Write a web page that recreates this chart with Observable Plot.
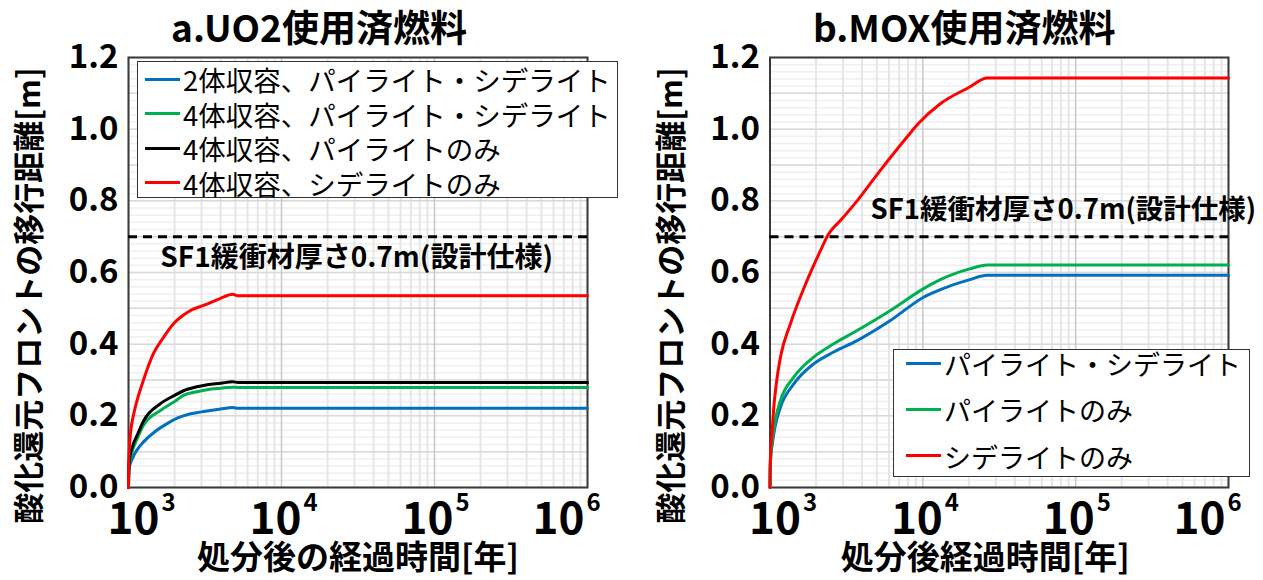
<!DOCTYPE html>
<html><head><meta charset="utf-8">
<script src="https://cdn.jsdelivr.net/npm/d3@7"></script>
<script src="https://cdn.jsdelivr.net/npm/@observablehq/plot@0.6"></script>
<style>
body{margin:0;background:#fff;font-family:"Noto Sans CJK JP",sans-serif;}
#wrap{position:relative;width:1263px;height:580px;overflow:hidden;background:#fff;}
.panel{position:absolute;top:0;}
.legend{position:absolute;background:#fff;border:1.5px solid #333;box-sizing:border-box;}
.row{position:absolute;left:0;display:flex;align-items:center;white-space:nowrap;color:#000;font-weight:400;}
.sw{display:inline-block;width:35px;height:3px;margin-right:3px;}
</style></head><body>
<div id="wrap"></div>
<script>
// ---- data ----
const panelTitles = ["a.UO2使用済燃料", "b.MOX使用済燃料"];
const yTitle = "酸化還元フロントの移行距離[m]";
const xTitles = ["処分後の経過時間[年]", "処分後経過時間[年]"];
const annotationText = "SF1緩衝材厚さ0.7m(設計仕様)";
const designThickness = [0.7];
const annotationUO2 = [{t: 31000, v: 0.64}];
const annotationMOX = [{t: 4550, v: 0.775}];
const yTicks = [0, 0.2, 0.4, 0.6, 0.8, 1.0, 1.2];
const xTicks = [1e3, 1e4, 1e5, 1e6];
const xTickExp = ["3", "4", "5", "6"];

const uo2Labels = ["2体収容、パイライト・シデライト", "4体収容、パイライト・シデライト", "4体収容、パイライトのみ", "4体収容、シデライトのみ"];
const moxLabels = ["パイライト・シデライト", "パイライトのみ", "シデライトのみ"];

const uo2Pair2PS = [[1000,0],[1003,0.035],[1015,0.058],[1057,0.08],[1150,0.108],[1259,0.128],[1500,0.157],[1798,0.179],[2100,0.194],[2543,0.206],[3000,0.211],[3435,0.215],[4000,0.219],[4800,0.223],[5200,0.221],[1e6,0.221]];
const uo2Pair4PS = [[1000,0],[1003,0.035],[1015,0.07],[1057,0.10],[1150,0.14],[1259,0.175],[1618,0.215],[2000,0.24],[2288,0.257],[2800,0.267],[3268,0.273],[4000,0.277],[4800,0.28],[5200,0.279],[1e6,0.279]];
const uo2Pair4P = [[1000,0],[1003,0.04],[1015,0.08],[1057,0.112],[1150,0.15],[1259,0.187],[1618,0.234],[2000,0.257],[2288,0.27],[2800,0.281],[3268,0.287],[4000,0.291],[4800,0.295],[5200,0.293],[1e6,0.293]];
const uo2Pair4S = [[1000,0],[1003,0.06],[1010,0.10],[1030,0.15],[1083,0.206],[1150,0.25],[1253,0.30],[1457,0.374],[1700,0.42],[1968,0.457],[2300,0.482],[2543,0.494],[3000,0.506],[3435,0.516],[4000,0.528],[4800,0.539],[5200,0.535],[1e6,0.535]];

const moxPS = [[1000,0],[1003,0.05],[1012,0.085],[1034,0.12],[1080,0.17],[1171,0.224],[1431,0.289],[1932,0.345],[2612,0.378],[3715,0.41],[6133,0.466],[10120,0.531],[13010,0.552],[20250,0.58],[26400,0.592],[1e6,0.592]];
const moxP = [[1000,0],[1003,0.055],[1012,0.09],[1034,0.131],[1080,0.185],[1171,0.243],[1431,0.308],[1932,0.364],[2612,0.401],[3715,0.438],[6133,0.494],[10120,0.555],[13010,0.58],[20250,0.61],[26400,0.621],[1e6,0.621]];
const moxS = [[1000,0],[1003,0.06],[1010,0.1],[1034,0.16],[1059,0.224],[1100,0.29],[1171,0.364],[1361,0.457],[1750,0.578],[2138,0.661],[2423,0.708],[2890,0.745],[3715,0.80],[5272,0.885],[7880,0.978],[9315,1.015],[13010,1.071],[20130,1.117],[26400,1.143],[1e6,1.143]];

// ---- styles ----
const uo2Colors = ["#0070C0", "#00B050", "#000000", "#FF0000"];
const moxColors = ["#0070C0", "#00B050", "#FF0000"];
const FONT = "'Noto Sans CJK JP', sans-serif";
const xLabelShift = [31, 20, 19, -3]; // label offsets (edge labels pulled inward)

function rows(seriesList, labels) {
  return seriesList.flatMap((s, i) => s.map(([t, v]) => ({t, v, s: labels[i]})));
}

const minorX = [];
for (let d = 1e3; d < 1e6; d *= 10) for (let k = 2; k <= 9; k++) minorX.push(d * k);
const minorY = d3.range(0, 1.2001, 0.02).map(v => +v.toFixed(2));
const tenthY = d3.range(0, 1.2001, 0.1).map(v => +v.toFixed(1));

function panel(cfg) {
  const T = {fill: "#000", lineAnchor: "middle", fontWeight: "bold"};
  const xLabelMarks = xTicks.flatMap((tk, i) => [
    Plot.text([tk], {...T, x: d => d, frameAnchor: "bottom", dx: xLabelShift[i], dy: 32, textAnchor: "end", text: () => "10", fontSize: 44}),
    Plot.text([tk], {...T, x: d => d, frameAnchor: "bottom", dx: xLabelShift[i] + 2, dy: 16, textAnchor: "start", text: () => xTickExp[i], fontSize: 24})
  ]);
  return Plot.plot({
    width: cfg.width, height: 580,
    marginLeft: cfg.ml, marginRight: cfg.mr, marginTop: 57, marginBottom: 93,
    style: {fontFamily: FONT, background: "transparent", overflow: "visible"},
    x: {type: "log", domain: [1e3, 1e6], axis: null},
    y: {domain: [0, 1.2], axis: null},
    color: {domain: cfg.labels, range: cfg.colors},
    marks: [
      Plot.gridY(minorY, {stroke: "#efefef", strokeOpacity: 1, strokeWidth: 1.5}),
      Plot.gridX(minorX, {stroke: "#e6e6e6", strokeOpacity: 1, strokeWidth: 2}),
      Plot.gridY(tenthY, {stroke: "#d9d9d9", strokeOpacity: 1, strokeWidth: 1.5}),
      Plot.gridX(xTicks, {stroke: "#c8c8c8", strokeOpacity: 1, strokeWidth: 1.5}),
      Plot.frame({stroke: "#3a3a3a", strokeWidth: 2}),
      Plot.ruleY(designThickness, {stroke: "#000", strokeWidth: 3, strokeDasharray: "9,6"}),
      Plot.text(cfg.annotation, {...T, x: "t", y: "v", text: () => annotationText, textAnchor: cfg.annAnchor, fontSize: cfg.annSize}),
      Plot.line(cfg.data, {x: "t", y: "v", z: "s", stroke: "s", strokeWidth: 3, curve: "monotone-x"}),
      Plot.text(yTicks, {...T, y: d => d, frameAnchor: "left", dx: -10, textAnchor: "end", text: d => d.toFixed(1), fontSize: 33}),
      ...xLabelMarks,
      Plot.text([yTitle], {...T, frameAnchor: "left", dx: -98, dy: 23, rotate: -90, textAnchor: "middle", text: d => d, fontSize: 31}),
      Plot.text([cfg.xTitle], {...T, frameAnchor: "bottom", dx: cfg.xtdx, dy: 71, textAnchor: "middle", text: d => d, fontSize: 33}),
      Plot.text([cfg.title], {...T, frameAnchor: "top", dx: cfg.tdx, dy: -27, textAnchor: "middle", text: d => d, fontSize: 37})
    ]
  });
}

const wrap = document.getElementById("wrap");

const left = panel({
  width: 632, ml: 128, mr: 45, labels: uo2Labels, colors: uo2Colors,
  data: rows([uo2Pair2PS, uo2Pair4PS, uo2Pair4P, uo2Pair4S], uo2Labels),
  annotation: annotationUO2, annAnchor: "middle", annSize: 28, xTitle: xTitles[0], xtdx: 0,
  title: panelTitles[0], tdx: -39
});
left.classList.add("panel"); left.style.left = "0px";
wrap.appendChild(left);

const right = panel({
  width: 631, ml: 137.5, mr: 35, labels: moxLabels, colors: moxColors,
  data: rows([moxPS, moxP, moxS], moxLabels),
  annotation: annotationMOX, annAnchor: "start", annSize: 27.5, xTitle: xTitles[1], xtdx: -14,
  title: panelTitles[1], tdx: -35
});
right.classList.add("panel"); right.style.left = "632px";
wrap.appendChild(right);

function legend(labels, colors, box) {
  const lg = document.createElement("div");
  lg.className = "legend";
  Object.assign(lg.style, {left: box.x + "px", top: box.y + "px", width: box.w + "px", height: box.h + "px"});
  labels.forEach((lab, i) => {
    const r = document.createElement("div");
    r.className = "row";
    Object.assign(r.style, {top: (box.first + i * box.step - box.fs * 0.7) + "px", left: box.pad + "px", height: (box.fs * 1.4) + "px", fontSize: box.fs + "px"});
    const sw = document.createElement("span");
    sw.className = "sw"; sw.style.background = colors[i];
    const tx = document.createElement("span");
    tx.textContent = lab;
    r.appendChild(sw); r.appendChild(tx);
    lg.appendChild(r);
  });
  wrap.appendChild(lg);
}
legend(uo2Labels, uo2Colors, {x: 137, y: 61, w: 481, h: 137, first: 17, step: 34.5, fs: 27.5, pad: 7});
legend(moxLabels, moxColors, {x: 893, y: 349, w: 357, h: 128, first: 13, step: 46.5, fs: 27, pad: 12});
</script>
</body></html>
